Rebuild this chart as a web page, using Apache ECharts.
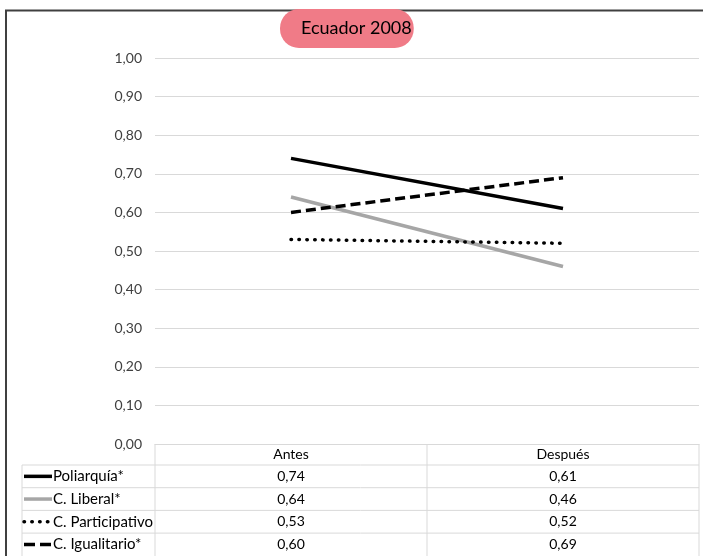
<!DOCTYPE html>
<html>
<head>
<meta charset="utf-8">
<script src="https://cdn.jsdelivr.net/npm/echarts@6/dist/echarts.min.js"></script>
<style>
  html, body { margin: 0; padding: 0; background: #fff; }
  #chart { width: 703px; height: 556px; }
</style>
</head>
<body>
<div id="chart"></div>
<script>
// Index values before and after the 2008 constitution
const categories = ['Antes', 'Después'];
const seriesNames = ['Poliarquía*', 'C. Liberal*', 'C. Participativo', 'C. Igualitario*'];
const poliarquia = [0.74, 0.61];
const liberal = [0.64, 0.46];
const participativo = [0.53, 0.52];
const igualitario = [0.60, 0.69];
const yTicks = [0, 0.1, 0.2, 0.3, 0.4, 0.5, 0.6, 0.7, 0.8, 0.9, 1.0];

const seriesValues = [poliarquia, liberal, participativo, igualitario];
const FONT = 'Lato';
const fmt = v => v.toFixed(2).replace('.', ',');

const lineStyles = [
  { color: '#000000', width: 3.5, type: 'solid' },
  { color: '#a6a6a6', width: 3.5, type: 'solid' },
  { color: '#000000', width: 3.5, type: [0.5, 7.4], cap: 'round' },
  { color: '#000000', width: 3.5, type: [10, 5] }
];
// short key strokes shown in the table's first column
const keyDash = [null, null, [0.5, 7.3], [11, 5]];

const chart = echarts.init(document.getElementById('chart'));

chart.setOption({
  animation: false,
  title: {
    text: 'Ecuador 2008',
    left: 280,
    top: 9,
    padding: [10, 2, 10, 21],
    backgroundColor: '#f07b87',
    borderRadius: 19,
    textStyle: { fontFamily: FONT, fontSize: 18, fontWeight: 'normal', color: '#000', lineHeight: 19 }
  },
  grid: { left: 155, right: 4, top: 58, height: 386, containLabel: false },
  xAxis: {
    type: 'category',
    data: categories,
    boundaryGap: true,
    axisLine: { show: true, lineStyle: { color: '#d9d9d9', width: 1 } },
    axisTick: { show: false },
    axisLabel: { show: false }
  },
  yAxis: {
    type: 'value',
    min: 0,
    max: 1,
    interval: 0.1,
    axisLine: { show: false },
    axisTick: { show: false },
    splitLine: { lineStyle: { color: '#d9d9d9', width: 1 } },
    axisLabel: {
      margin: 13,
      fontFamily: FONT,
      fontSize: 14,
      color: '#404040',
      formatter: v => {
        const t = yTicks.find(k => Math.abs(k - v) < 1e-9);
        return fmt(t === undefined ? v : t);
      }
    }
  },
  series: seriesNames.map((name, i) => ({
    name,
    type: 'line',
    data: seriesValues[i],
    symbol: 'none',
    lineStyle: lineStyles[i],
    z: 2 + (i === 1 ? 0 : 1)
  }))
});

// Data table under the plot, laid out from the axis scale
function buildTable() {
  const x0 = chart.convertToPixel({ xAxisIndex: 0 }, 0);
  const x1 = chart.convertToPixel({ xAxisIndex: 0 }, 1);
  const colW = x1 - x0;
  const left = x0 - colW / 2;
  const right = x1 + colW / 2;
  const top = chart.convertToPixel({ yAxisIndex: 0 }, 0);
  const headH = 21;
  const rowH = 22.7;
  const keyLeft = 22;
  const bottom = top + headH + rowH * seriesNames.length + 2;
  const gridColor = '#d9d9d9';
  const els = [];

  const line = (xa, ya, xb, yb) => els.push({
    type: 'line', silent: true,
    shape: { x1: xa, y1: ya, x2: xb, y2: yb },
    style: { stroke: gridColor, lineWidth: 1 }
  });
  const text = (t, x, y, align, size) => els.push({
    type: 'text', silent: true,
    style: { text: t, x, y, align, verticalAlign: 'middle', fill: '#000', font: size + 'px ' + FONT }
  });

  // column boundaries
  [left, left + colW, right].forEach(x => line(x, top, x, bottom));
  line(keyLeft, top + headH, keyLeft, bottom);
  // row boundaries
  for (let r = 0; r <= seriesNames.length - 1; r++) {
    const y = top + headH + rowH * r;
    line(keyLeft, y, right, y);
  }
  // header
  categories.forEach((c, j) => text(c, x0 + colW * j, top + headH / 2, 'center', 14));
  // rows
  seriesNames.forEach((name, i) => {
    const yc = top + headH + rowH * i + rowH / 2;
    const ls = lineStyles[i];
    els.push({
      type: 'line', silent: true,
      shape: { x1: 24, y1: yc, x2: 52, y2: yc },
      style: {
        stroke: ls.color, lineWidth: ls.width,
        lineDash: keyDash[i],
        lineCap: ls.cap || 'butt'
      }
    });
    text(name, 53, yc, 'left', 15);
    seriesValues[i].forEach((v, j) => text(fmt(v), x0 + colW * j, yc, 'center', 14));
  });

  // outer frame
  els.push({
    type: 'rect', silent: true, z: -1,
    shape: { x: 6, y: 10.5, width: 720, height: 600 },
    style: { fill: 'none', stroke: '#404040', lineWidth: 2 }
  });

  chart.setOption({ graphic: els });
}
buildTable();
</script>
</body>
</html>
